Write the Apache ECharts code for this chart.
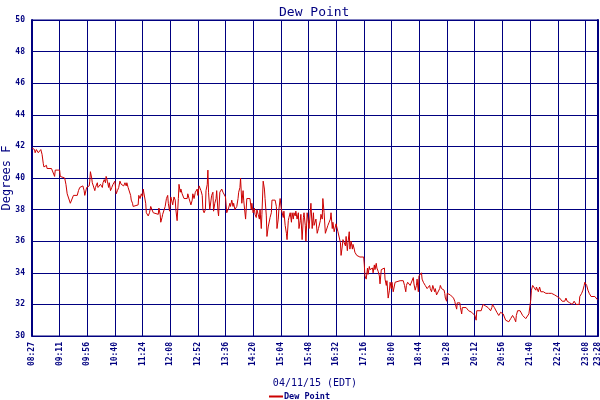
<!DOCTYPE html>
<html>
<head>
<meta charset="utf-8">
<script src="https://cdn.jsdelivr.net/npm/echarts@6/dist/echarts.min.js"></script>
<style>
html, body { margin: 0; padding: 0; background: #fff; }
#dew { width: 600px; height: 400px; }
</style>
</head>
<body>
<div id="dew"></div>
<script>
// minutes after 08:27 EDT, 04/11/15
var minutes = [
  0, 3, 4, 5, 7, 9, 10, 11, 13, 14, 16, 18, 19, 23, 24, 31, 32, 34, 36, 37,
  44, 45, 47, 52, 54, 56, 58, 61, 64, 66, 68, 72, 74, 76, 81, 83, 84, 87, 89, 91,
  92, 93, 95, 96, 98, 100, 101, 104, 105, 108, 109, 112, 113, 115, 117, 118, 120, 122, 123, 125,
  127, 129, 131, 132, 134, 136, 138, 140, 142, 144, 146, 148, 150, 151, 153, 155, 157, 158, 160, 161,
  164, 169, 170, 172, 174, 176, 177, 179, 181, 182, 185, 187, 189, 191, 193, 195, 201, 202, 204, 205,
  207, 208, 210, 212, 214, 216, 217, 219, 221, 224,
  226, 228, 229, 231, 233, 234, 236, 237, 239, 241, 242, 244, 245, 247, 248, 250, 252, 253, 255, 256,
  258, 260, 261, 263, 264, 266, 268, 269, 271, 272, 274, 276, 277, 279, 280, 281, 283, 285, 286, 288,
  289, 291, 293, 294, 296, 297, 299, 301, 302, 304, 305, 307, 308, 310, 312, 313, 315, 316, 318, 320,
  321, 323, 324, 326, 328, 329, 331, 332, 334, 336, 337, 339, 340, 342, 345, 347, 349, 350, 352, 354,
  355, 357, 358, 360, 362, 363, 365, 366, 368, 370, 371, 373, 374, 376, 377, 379, 381, 382, 384, 387,
  389, 390, 392, 393, 395, 397, 398, 400, 401, 403, 405, 406, 408, 409, 411, 413, 414, 416, 417, 419,
  420, 422, 424, 425, 427, 428, 430, 432, 433, 435, 436, 438, 440, 441,
  444, 446, 448, 449, 451, 452, 454, 456, 457, 459, 460, 462, 463, 465, 467, 468, 470, 471, 473, 475,
  476, 478, 479, 481, 483, 484, 486, 487, 489, 491, 492, 494, 495, 497, 499, 500, 502, 503, 505, 506,
  508, 510, 511, 513, 514, 517, 520, 522, 525, 528, 529, 530, 532, 534, 535, 537, 538, 540, 542, 543,
  545, 546, 548, 549, 551, 553, 554, 556, 557, 559, 561, 562, 564, 565, 567, 569, 570, 572, 573, 575,
  577, 578, 580, 586, 591, 593, 595, 596, 598, 599, 602, 604, 605, 607, 608, 610, 612, 613, 615, 616,
  618, 620, 621, 623, 624, 626, 629, 631, 633, 634, 636, 638, 639, 641, 642, 644, 646, 647, 649, 650,
  652, 654, 656, 657,
  658, 660, 661, 663, 666, 669, 671, 673, 674, 676, 677, 679, 681, 682, 684, 685, 688, 691, 693, 695,
  698, 700, 703, 705, 707, 708, 710, 711, 715, 717, 718, 720, 722, 724, 726, 728, 730, 732, 733, 735,
  736, 738, 740, 743, 745, 746, 748, 750, 752, 754, 755, 757, 759, 760, 762, 763, 765, 767, 768, 770,
  771, 773, 775, 777, 779, 781, 783, 784, 786, 787, 789, 791, 793, 794, 795, 797, 799, 800, 802, 803,
  805, 806, 808, 810, 811, 814, 818, 819, 821, 822, 824, 827, 829, 830, 832, 834, 836, 837, 839, 840,
  842, 844, 845, 847, 848, 850, 852, 855, 856, 858, 860, 861, 863, 864, 866, 868, 869, 871, 872, 874,
  875, 877, 879, 880, 882, 883, 885, 887, 888, 890, 893, 896, 898, 900
];

var dewPoint = [
  41.9, 42.0, 41.8, 41.6, 41.8, 41.8, 41.6, 41.7, 41.5, 41.8, 41.5, 40.9, 40.7, 40.8, 40.6, 40.6, 40.7, 40.5, 40.1, 40.5,
  40.5, 40.1, 40.0, 40.0, 39.6, 39.0, 38.9, 38.4, 38.4, 38.9, 38.9, 38.9, 39.2, 39.4, 39.5, 39.2, 38.9, 39.4, 39.3, 39.5,
  39.8, 40.4, 40.0, 39.7, 39.6, 39.2, 39.4, 39.7, 39.4, 39.4, 39.6, 39.4, 39.7, 39.9, 39.7, 40.1, 39.8, 39.4, 39.7, 39.2,
  39.4, 39.6, 39.7, 39.8, 39.0, 39.2, 39.4, 39.8, 39.6, 39.6, 39.5, 39.7, 39.5, 39.7, 39.4, 39.3, 38.9, 38.6, 38.4, 38.2,
  38.3, 38.3, 38.9, 38.7, 39.0, 38.8, 39.3, 39.4, 38.4, 37.8, 37.6, 37.8, 38.2, 38.2, 37.8, 37.7, 37.7, 38.1, 37.7, 37.2,
  37.5, 37.7, 37.8, 38.2, 38.7, 38.9, 38.4, 37.9, 38.8, 38.3,
  38.8, 38.6, 38.0, 37.3, 38.7, 39.6, 39.1, 39.3, 39.0, 39.1, 38.7, 38.6, 38.6, 38.7, 39.0, 38.7, 38.8, 38.3, 38.6, 39.0,
  38.7, 39.1, 39.0, 39.3, 38.9, 39.5, 39.4, 39.2, 38.9, 38.0, 37.8, 38.0, 39.2, 39.6, 40.5, 39.1, 38.0, 37.9, 38.9, 39.1,
  37.9, 38.4, 38.7, 39.2, 37.9, 37.6, 39.1, 39.0, 39.3, 39.1, 39.0, 39.0, 38.8, 37.8, 37.9, 38.1, 38.4, 38.2, 38.6, 38.2,
  38.4, 38.0, 38.1, 38.2, 38.7, 39.1, 39.4, 40.0, 38.4, 39.2, 38.6, 38.7, 37.4, 38.7, 38.6, 38.7, 38.0, 38.4, 37.8, 38.1,
  37.7, 37.5, 38.0, 37.7, 37.4, 38.0, 36.8, 37.7, 39.8, 39.3, 38.7, 37.6, 36.3, 36.9, 37.0, 37.5, 37.8, 38.6, 38.6, 38.6,
  38.2, 36.8, 37.4, 38.0, 38.7, 38.0, 38.1, 37.5, 37.9, 37.0, 36.5, 36.1, 37.3, 37.5, 37.8, 37.2, 37.8, 37.4, 37.8, 37.6,
  37.9, 37.4, 37.8, 36.8, 37.3, 37.7, 36.1, 37.5, 37.8, 37.0, 36.0, 37.8, 37.2, 36.8,
  38.4, 36.8, 37.8, 37.0, 36.9, 37.4, 36.5, 36.8, 36.9, 37.3, 37.7, 37.4, 38.7, 37.8, 36.5, 36.6, 36.5, 37.0, 37.2, 37.4,
  37.8, 36.8, 37.2, 36.6, 36.5, 37.1, 37.1, 36.6, 36.6, 35.9, 35.1, 35.7, 36.1, 36.2, 35.7, 36.3, 35.4, 35.9, 36.6, 35.5,
  36.0, 35.5, 35.8, 35.5, 35.3, 35.1, 35.1, 35.0, 35.0, 35.0, 34.5, 33.8, 33.6, 34.3, 33.9, 34.4, 34.2, 34.1, 34.3, 34.0,
  34.5, 34.2, 34.6, 34.3, 34.1, 33.8, 33.3, 34.2, 34.3, 34.2, 34.3, 33.6, 33.2, 33.5, 32.4, 32.9, 33.4, 33.0, 33.4, 32.8,
  32.9, 33.4, 33.5, 33.5, 33.5, 33.2, 32.8, 33.2, 33.4, 33.5, 33.2, 33.3, 33.2, 33.7, 33.3, 32.9, 33.2, 33.6, 32.8, 33.8,
  33.9, 34.0, 33.6, 33.4, 33.3, 33.2, 33.0, 32.9, 33.2, 33.0, 32.8, 33.2, 33.3, 32.8, 33.0, 32.6, 32.6, 32.7, 33.0, 33.2,
  33.0, 32.9, 32.9, 32.7,
  32.4, 32.2, 32.7, 32.6, 32.6, 32.6, 32.4, 32.2, 32.0, 31.7, 32.1, 32.0, 32.1, 31.8, 31.4, 31.8, 31.8, 31.8, 31.7, 31.6,
  31.6, 31.5, 31.4, 31.3, 31.0, 31.6, 31.7, 31.6, 31.6, 31.6, 32.0, 32.1, 31.9, 31.9, 31.8, 31.7, 31.6, 31.8, 32.0, 31.9,
  31.8, 31.7, 31.5, 31.3, 31.4, 31.5, 31.6, 31.4, 31.3, 31.0, 31.1, 31.0, 30.9, 31.0, 31.1, 31.0, 31.3, 31.4, 31.1, 30.9,
  31.3, 31.6, 31.5, 31.6, 31.5, 31.3, 31.4, 31.3, 31.1, 31.0, 31.1, 31.4, 31.3, 32.3, 32.9, 33.2, 33.3, 33.2, 32.9, 33.1,
  33.2, 32.8, 33.1, 32.8, 32.9, 32.8, 32.7, 32.8, 32.6, 32.7, 32.6, 32.7, 32.6, 32.7, 32.6, 32.7, 32.5, 32.4, 32.5, 32.4,
  32.3, 32.2, 32.1, 32.1, 32.2, 32.4, 32.2, 32.2, 32.1, 32.0, 32.0, 32.1, 32.2, 32.1, 32.0, 31.9, 31.9, 32.0, 32.5, 32.5,
  32.7, 32.9, 33.2, 33.4, 33.3, 33.2, 32.9, 32.7, 32.6, 32.5, 32.5, 32.5, 32.4, 32.3
];

var timeLabels = [
  '08:27', '09:11', '09:56', '10:40', '11:24', '12:08', '12:52', '13:36', '14:20', '15:04', '15:48',
  '16:32', '17:16', '18:00', '18:44', '19:28', '20:12', '20:56', '21:40', '22:24', '23:08', '23:28'
];

var tickStep = 44.05;   // minutes between time labels
var span = 901;         // 08:27 .. 23:28

var navy = '#000080';
var mono = 'DejaVu Sans Mono';

var points = [];
for (var i = 0; i < minutes.length; i++) {
  points.push([minutes[i], dewPoint[i]]);
}

var myChart = echarts.init(document.getElementById('dew'), null, { renderer: 'canvas' });

var option = {
  backgroundColor: '#fff',
  animation: false,
  title: {
    text: 'Dew Point',
    left: 274,
    top: 1,
    textStyle: { fontFamily: mono, fontSize: 13, fontWeight: 'normal', color: navy }
  },
  legend: {
    left: 264,
    top: 387,
    icon: 'rect',
    itemWidth: 14,
    itemHeight: 2,
    textStyle: { fontFamily: mono, fontSize: 8.5, fontWeight: 'bold', color: navy, padding: [0, 0, 0, -4] },
    data: ['Dew Point']
  },
  grid: {
    left: 32,
    top: 20,
    width: 566,
    height: 316,
    outerBoundsMode: 'none',
    show: true,
    borderColor: navy,
    borderWidth: 1
  },
  xAxis: {
    type: 'value',
    min: 0,
    max: span,
    interval: tickStep,
    name: '04/11/15 (EDT)',
    nameLocation: 'middle',
    nameGap: 42,
    nameMoveOverlap: false,
    nameTextStyle: { fontFamily: mono, fontSize: 10, color: navy },
    axisLine: { lineStyle: { color: navy, width: 1 } },
    axisTick: { show: false },
    splitLine: { show: true, lineStyle: { color: navy, width: 1 } },
    axisLabel: {
      rotate: 90,
      margin: 6,
      padding: [0, 0, 4, 0],
      showMinLabel: true,
      showMaxLabel: true,
      hideOverlap: false,
      fontFamily: mono,
      fontSize: 8,
      fontWeight: 'bold',
      color: navy,
      formatter: function (v) {
        if (v > span - 10) return timeLabels[timeLabels.length - 1];
        return timeLabels[Math.round(v / tickStep)];
      }
    }
  },
  yAxis: [{
    type: 'value',
    min: 30,
    max: 50,
    interval: 2,
    name: 'Degrees F',
    nameLocation: 'middle',
    nameGap: 19,
    nameMoveOverlap: false,
    nameTextStyle: { fontFamily: mono, fontSize: 12, color: navy },
    axisLine: { show: true, lineStyle: { color: navy, width: 2 } },
    axisTick: { show: false },
    splitLine: { show: true, lineStyle: { color: navy, width: 1 } },
    axisLabel: { margin: 7, fontFamily: mono, fontSize: 8, fontWeight: 'bold', color: navy }
  }, {
    type: 'value',
    position: 'right',
    min: 30,
    max: 50,
    interval: 2,
    axisLine: { show: true, lineStyle: { color: navy, width: 2 } },
    axisTick: { show: false },
    splitLine: { show: false },
    axisLabel: { show: false }
  }],
  series: [{
    name: 'Dew Point',
    type: 'line',
    data: points,
    showSymbol: false,
    color: '#cc0000',
    lineStyle: { color: '#cc0000', width: 1 }
  }]
};

myChart.setOption(option);
</script>
</body>
</html>
